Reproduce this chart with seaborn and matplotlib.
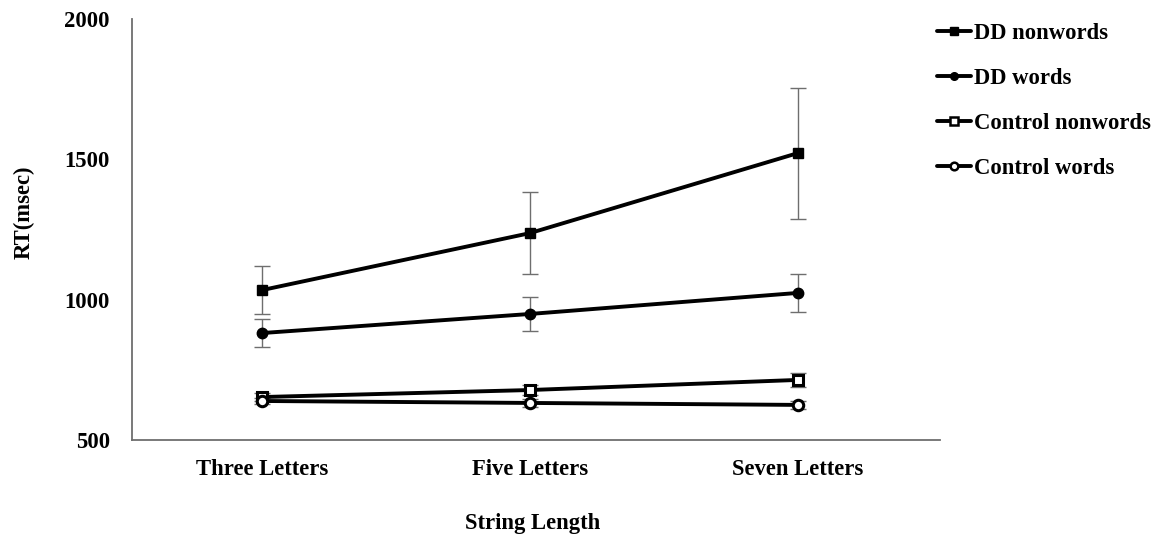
import matplotlib
matplotlib.use("Agg")
import matplotlib.pyplot as plt
import seaborn as sns
import pandas as pd
from matplotlib.lines import Line2D

categories = ["Three Letters", "Five Letters", "Seven Letters"]
series_names = ["DD nonwords", "DD words", "Control nonwords", "Control words"]

dd_nonwords = [1034, 1237, 1522]
dd_nonwords_err = [85, 146, 234]
dd_words = [881, 949, 1024]
dd_words_err = [51, 62, 69]
ctrl_nonwords = [653, 678, 714]
ctrl_nonwords_err = [14, 18, 24]
ctrl_words = [639, 632, 625]
ctrl_words_err = [12, 14, 14]

means = [dd_nonwords, dd_words, ctrl_nonwords, ctrl_words]
errs = [dd_nonwords_err, dd_words_err, ctrl_nonwords_err, ctrl_words_err]

rows = []
for name, m, e in zip(series_names, means, errs):
    for i, (v, s) in enumerate(zip(m, e)):
        rows.append({"group": name, "pos": i, "length": categories[i], "rt": v, "err": s})
df = pd.DataFrame(rows)

sns.set_theme(style="white")
plt.rcParams["font.family"] = ["Liberation Serif", "DejaVu Serif"]
plt.rcParams["font.weight"] = "bold"
plt.rcParams["text.color"] = "black"
plt.rcParams["axes.labelcolor"] = "black"
plt.rcParams["xtick.color"] = "black"
plt.rcParams["ytick.color"] = "black"

FS = 16.3

fig = plt.figure(figsize=(11.62, 5.39), dpi=100)
ax = fig.add_axes([0.1136, 0.1837, 0.695, 0.781])

marker_styles = {
    "DD nonwords": dict(marker="s", mfc="black"),
    "DD words": dict(marker="o", mfc="black"),
    "Control nonwords": dict(marker="s", mfc="white"),
    "Control words": dict(marker="o", mfc="white"),
}

# error bars first, so the lines sit on top
for name in series_names:
    sub = df[df["group"] == name]
    ax.errorbar(sub["pos"], sub["rt"], yerr=sub["err"], fmt="none",
                ecolor="#6e6e6e", elinewidth=1.0, capsize=6, capthick=1.0, zorder=2)

sns.lineplot(data=df, x="pos", y="rt", hue="group", hue_order=series_names,
             palette=["black"] * 4, linewidth=2.8, legend=False, ax=ax,
             errorbar=None, sort=False, zorder=3)

for name in series_names:
    sub = df[df["group"] == name]
    st = marker_styles[name]
    ax.plot(sub["pos"], sub["rt"], linestyle="none", marker=st["marker"],
            markerfacecolor=st["mfc"], markeredgecolor="black",
            markeredgewidth=2.2 if st["mfc"] == "white" else 1.0,
            markersize=7.5, zorder=4)

ax.set_xlim(-0.485, 2.53)
ax.set_ylim(500, 2000)
ax.set_yticks([500, 1000, 1500, 2000])
ax.set_xticks(range(len(categories)))
ax.set_xticklabels(categories)
ax.tick_params(axis="y", length=0, labelsize=FS, pad=16, labelcolor="black")
ax.tick_params(axis="x", length=0, labelsize=FS, pad=14, labelcolor="black")
for lab in ax.get_xticklabels() + ax.get_yticklabels():
    lab.set_fontweight("bold")

ax.set_xlabel("String Length", fontsize=FS, fontweight="bold", color="black")
ax.set_ylabel("RT(msec)", fontsize=FS, fontweight="bold", color="black")
ax.xaxis.set_label_coords(0.496, -0.1745)
ax.yaxis.set_label_coords(-0.121, 0.54)

for side in ["top", "right"]:
    ax.spines[side].set_visible(False)
for side in ["left", "bottom"]:
    ax.spines[side].set_color("#6e6e6e")
    ax.spines[side].set_linewidth(1.3)

handles = []
for name in series_names:
    st = marker_styles[name]
    handles.append(Line2D([0], [0], color="black", linewidth=2.8,
                          marker=st["marker"], markerfacecolor=st["mfc"],
                          markeredgecolor="black",
                          markeredgewidth=1.8 if st["mfc"] == "white" else 1.0,
                          markersize=5.5))
leg = fig.legend(handles, series_names, loc="upper left",
                 bbox_to_anchor=(0.789, 0.9944), frameon=False,
                 prop={"family": ["Liberation Serif"], "weight": "bold", "size": FS},
                 handlelength=1.5, handletextpad=0.13, labelspacing=1.05,
                 labelcolor="black")

fig.savefig("out.png", dpi=100, facecolor="white")
